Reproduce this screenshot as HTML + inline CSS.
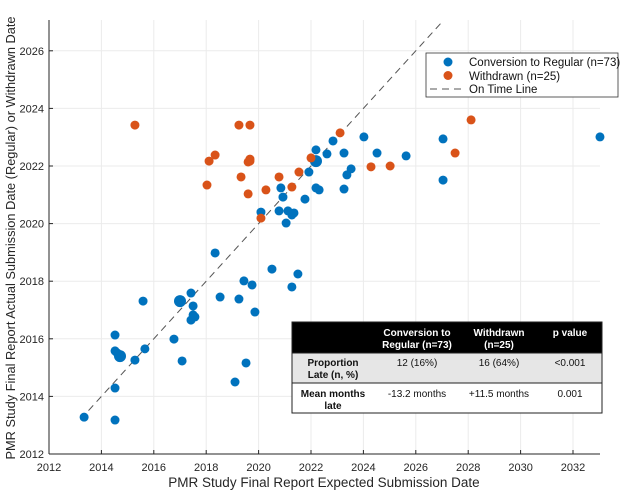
<!DOCTYPE html>
<html><head><meta charset="utf-8"><style>
body{margin:0;background:#fff;font-family:"Liberation Sans",Arial,sans-serif}
svg text{font-family:"Liberation Sans",Arial,sans-serif}
</style></head><body>
<svg id="c" width="624" height="496" xmlns="http://www.w3.org/2000/svg"></svg>
<script>
const xTicks=[2012,2014,2016,2018,2020,2022,2024,2026,2028,2030,2032];
const yTicks=[2012,2014,2016,2018,2020,2022,2024,2026];
const blueX=[2013.34,2014.52,2014.52,2014.52,2014.52,2014.71,2014.60,2015.28,2015.59,2015.66,2016.77,2017.0,2017.08,2017.42,2017.50,2017.50,2017.57,2017.42,2018.34,2018.53,2019.10,2019.25,2019.44,2019.52,2019.75,2019.86,2020.51,2021.27,2021.50,2020.09,2020.78,2020.85,2020.93,2021.05,2021.12,2021.27,2021.35,2021.77,2021.92,2022.19,2022.19,2022.19,2022.31,2022.61,2022.84,2023.26,2023.37,2023.53,2023.26,2024.02,2024.52,2025.63,2027.04,2027.04,2033.03];
const blueY=[2013.28,2013.18,2014.29,2016.13,2015.58,2015.40,2015.51,2015.26,2017.31,2015.65,2015.99,2017.31,2015.23,2017.59,2017.14,2016.83,2016.76,2016.65,2018.98,2017.45,2014.5,2017.38,2018.01,2015.16,2017.87,2016.93,2018.42,2017.80,2018.25,2020.40,2020.44,2021.24,2020.92,2020.02,2020.44,2020.30,2020.37,2020.85,2021.79,2022.56,2022.17,2021.24,2021.17,2022.42,2022.87,2022.45,2021.69,2021.90,2021.20,2023.01,2022.45,2022.35,2022.94,2021.51,2023.01];
const blueBig=[5,11,40];
const orangeX=[2015.28,2018.03,2018.11,2018.34,2019.25,2019.67,2019.33,2019.60,2019.67,2019.67,2019.60,2020.09,2020.28,2020.78,2021.27,2021.54,2022.0,2023.11,2024.29,2025.02,2027.50,2028.11];
const orangeY=[2023.42,2021.34,2022.17,2022.38,2023.42,2023.42,2021.62,2022.14,2022.24,2022.17,2021.03,2020.19,2021.17,2021.62,2021.27,2021.79,2022.28,2023.15,2021.97,2022.0,2022.45,2023.6];
const lineX=[2013.2,2027.0];

const svg=document.getElementById('c');const NS='http://www.w3.org/2000/svg';
const X=v=>49+(v-2012)*26.2, Y=v=>454-(v-2012)*28.8;
function mk(t,a,p){const e=document.createElementNS(NS,t);for(const k in a)e.setAttribute(k,a[k]);(p||svg).appendChild(e);return e;}
const g=mk('g',{});


xTicks.forEach(t=>{mk('line',{x1:X(t),x2:X(t),y1:20,y2:454,stroke:'#ebebeb'},g);
 mk('line',{x1:X(t),x2:X(t),y1:454,y2:450,stroke:'#262626'});
 const tx=mk('text',{x:X(t),y:471,'text-anchor':'middle','font-size':11,fill:'#262626'});tx.textContent=t;
 
 });
yTicks.forEach(t=>{mk('line',{x1:49,x2:600,y1:Y(t),y2:Y(t),stroke:'#ebebeb'},g);
 mk('line',{x1:49,x2:53,y1:Y(t),y2:Y(t),stroke:'#262626'});
 const tx=mk('text',{x:44,y:Y(t)+4,'text-anchor':'end','font-size':11,fill:'#262626'});tx.textContent=t;
 
 });
mk('line',{x1:49,x2:49,y1:20,y2:454,stroke:'#262626'});
mk('line',{x1:49,x2:600,y1:454,y2:454,stroke:'#262626'});
const dl=mk('line',{x1:X(lineX[0]),y1:Y(lineX[0]),x2:X(lineX[1]),y2:Y(lineX[1]),stroke:'#555','stroke-dasharray':'7,5','stroke-width':1});


blueX.forEach((v,i)=>{const c=mk('circle',{cx:X(v),cy:Y(blueY[i]),r:blueBig.includes(i)?6:4.5,fill:'#0072BD'});
 
 });
orangeX.forEach((v,i)=>{const c=mk('circle',{cx:X(v),cy:Y(orangeY[i]),r:4.5,fill:'#D95319'});
 
 });
</script>
<svg style="position:absolute;left:0;top:0" width="624" height="496">
<text x="324" y="487" text-anchor="middle" font-size="13.5" fill="#262626">PMR Study Final Report Expected Submission Date</text>
<text transform="translate(15,238) rotate(-90)" text-anchor="middle" font-size="12.8" fill="#262626">PMR Study Final Report Actual Submission Date (Regular) or Withdrawn Date</text>
<g>
<rect x="426" y="53" width="192" height="44" fill="#fff" stroke="#333" stroke-width="0.8"/>
<circle cx="448" cy="62" r="4.5" fill="#0072BD"/>
<text x="469" y="66" font-size="11.5" fill="#111">Conversion to Regular (n=73)</text>
<circle cx="448" cy="75.5" r="4.5" fill="#D95319"/>
<text x="469" y="80" font-size="11.5" fill="#111">Withdrawn (n=25)</text>
<line x1="430" y1="89" x2="466" y2="89" stroke="#555" stroke-dasharray="7,5"/>
<text x="469" y="93" font-size="11.5" fill="#111">On Time Line</text>
</g>
<g font-size="10" text-anchor="middle">
<rect x="292" y="322" width="310" height="31" fill="#000"/>
<rect x="292" y="353" width="310" height="30" fill="#e6e6e6"/>
<rect x="292" y="383" width="310" height="30" fill="#fff"/>
<rect x="292" y="322" width="310" height="91" fill="none" stroke="#222" stroke-width="1"/>
<line x1="292" y1="383" x2="602" y2="383" stroke="#222"/>
<line x1="292" y1="353" x2="602" y2="353" stroke="#222"/>
<g fill="#fff" font-weight="bold"><text x="417" y="336">Conversion to</text><text x="417" y="348">Regular (n=73)</text><text x="499" y="336">Withdrawn</text><text x="499" y="348">(n=25)</text><text x="570" y="336">p value</text></g>
<g fill="#111"><text x="333" y="366" font-weight="bold">Proportion</text><text x="333" y="378" font-weight="bold">Late (n, %)</text><text x="417" y="366">12 (16%)</text><text x="499" y="366">16 (64%)</text><text x="570" y="366">&lt;0.001</text>
<text x="333" y="397" font-weight="bold">Mean months</text><text x="333" y="409" font-weight="bold">late</text><text x="417" y="397">-13.2 months</text><text x="499" y="397">+11.5 months</text><text x="570" y="397">0.001</text></g>
</g>
</svg>
</body></html>
